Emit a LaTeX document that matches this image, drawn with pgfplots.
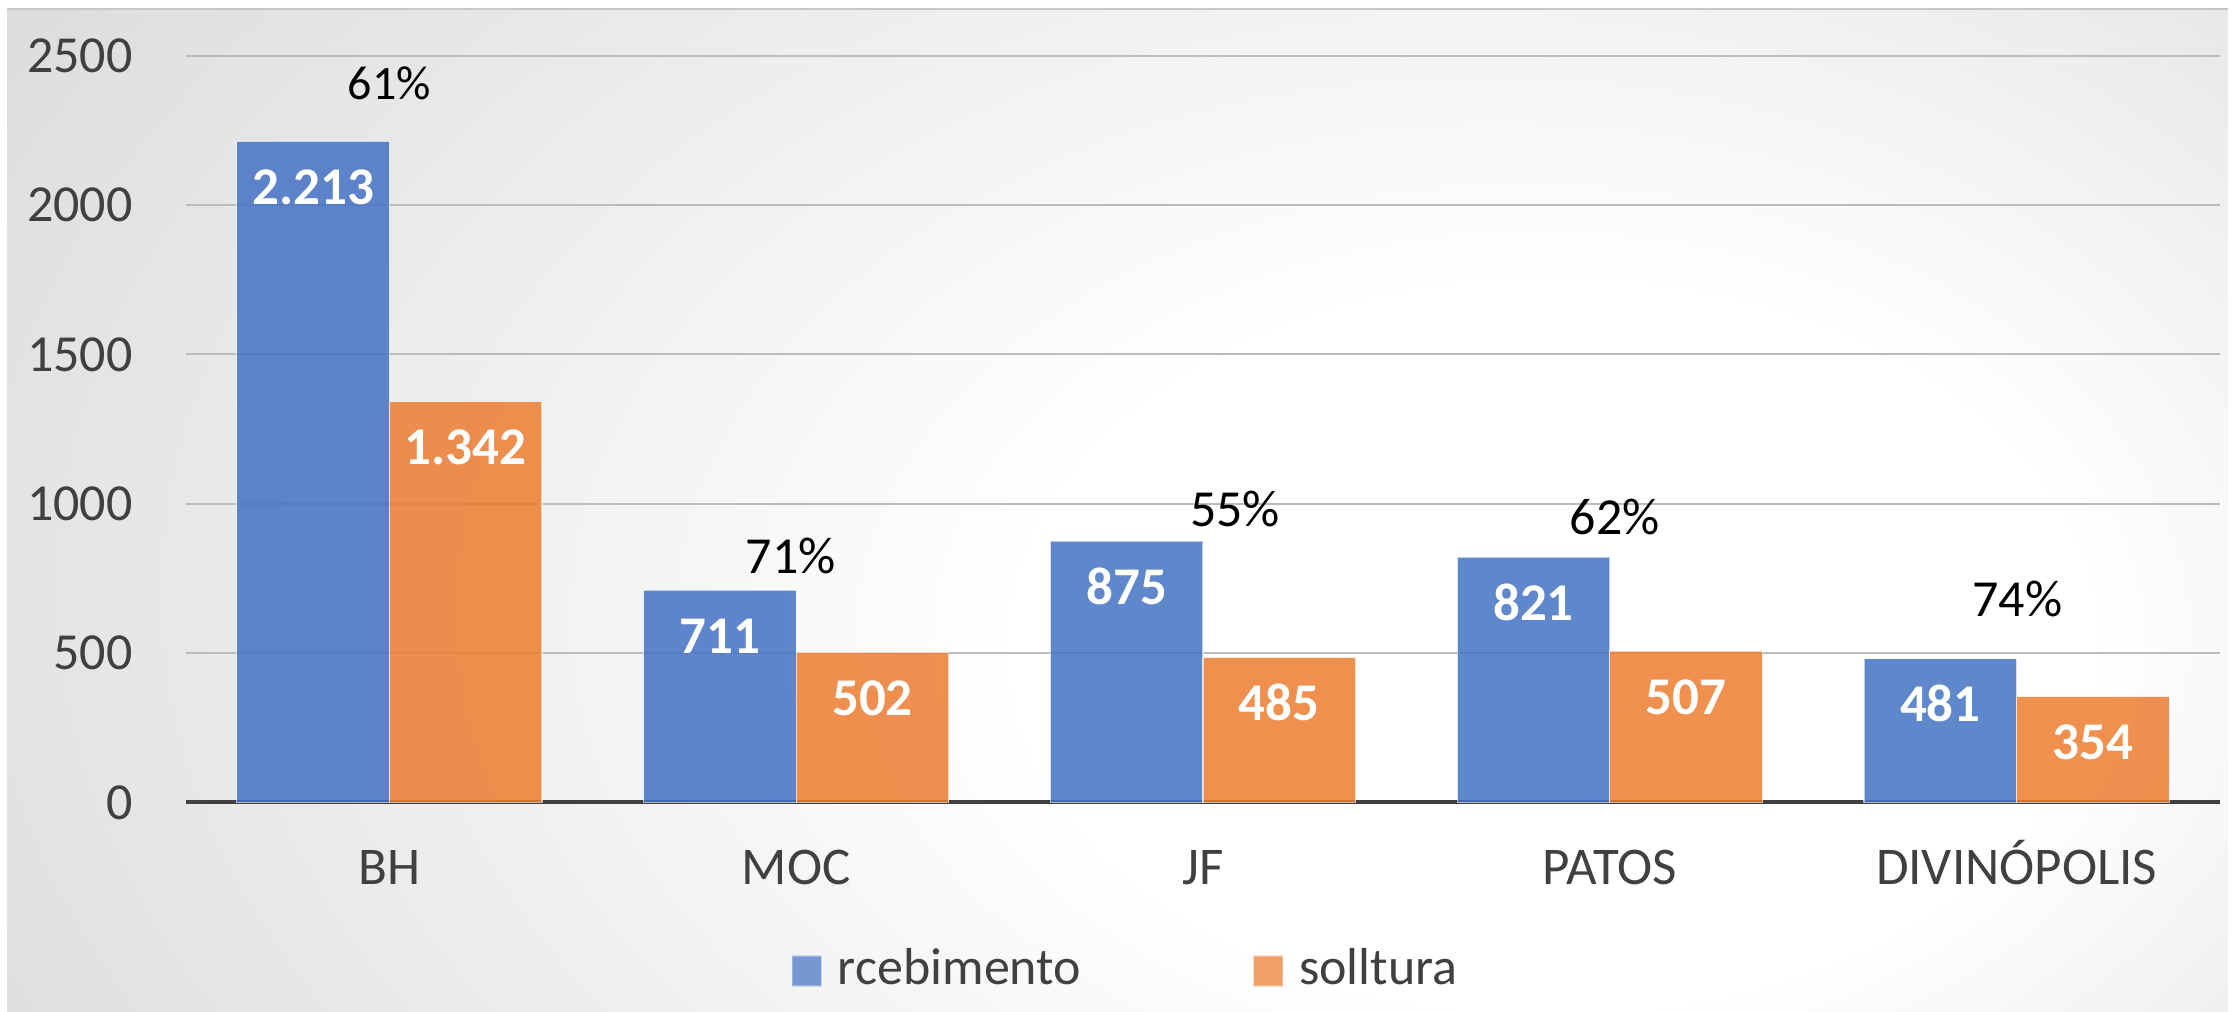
\documentclass[border=0pt]{standalone}
\usepackage{fontspec}
\setmainfont{Carlito}
\usepackage{pgfplots}
\pgfplotsset{compat=1.18}
\definecolor{barblue}{RGB}{68,114,196}
\definecolor{barorange}{RGB}{237,125,49}
\definecolor{labelgray}{RGB}{64,64,64}
\definecolor{gridgray}{RGB}{188,188,188}
\pgfdeclareradialshading{bgshade}{\pgfpoint{13bp}{-6bp}}{color(0bp)=(white); color(12bp)=(white); color(32bp)=(white!88!black); color(50bp)=(white!74!black)}
\begin{document}
\begin{tikzpicture}
\path[use as bounding box] (0pt,0pt) rectangle (1119.5pt,506pt);
\begin{scope}
\clip (3.5pt,0pt) rectangle (1114pt,501.5pt);
\shade[shading=bgshade] (3.5pt,-125.4pt) rectangle (1114pt,626.9pt);
\end{scope}
\draw[white!78!black, line width=0.8pt] (3.5pt,501.5pt) -- (1114pt,501.5pt);
\begin{axis}[
  at={(93pt,104.75pt)}, anchor=south west,
  scale only axis, width=1017pt, height=373.4pt,
  xmin=-0.5, xmax=4.5, ymin=0, ymax=2500,
  xtick={0,1,2,3,4},
  xticklabels={BH,MOC,JF,PATOS,DIVINÓPOLIS},
  ytick={0,500,1000,1500,2000,2500},
  /pgf/number format/assume math mode=true,
  /pgf/number format/1000 sep={},
  axis x line*=bottom, axis y line*=left,
  y axis line style={draw=none},
  x axis line style={line width=2pt, color=labelgray, -},
  major tick length=0pt,
  tick style={draw=none},
  ymajorgrids,
  grid style={gridgray, line width=1pt},
  yticklabel style={font=\fontsize{26}{30}\selectfont, text=labelgray, anchor=east, inner sep=0pt, xshift=-26.5pt},
  xticklabel style={font=\fontsize{26.5}{30}\selectfont, text=labelgray, anchor=base, inner sep=0pt, yshift=-41.25pt},
  legend style={at={(axis description cs:0.2978,-0.2471)}, anchor=south west, draw=none, fill=none,
    inner sep=0pt, outer sep=0pt, legend columns=2,
    font=\fontsize{26}{30}\selectfont, text=labelgray,
    nodes={inner sep=0pt},
    /tikz/every odd column/.style={column sep=8pt},
    /tikz/every even column/.style={column sep=86pt}},
  legend cell align=left,
]
\addplot[ybar, bar width=0.375, bar shift=-0.1875, fill=barblue, fill opacity=0.85,
  draw=white, draw opacity=0.6, line width=0.6pt,
  nodes near coords={\pgfmathprintnumber[1000 sep={.}]{\pgfplotspointmeta}},
  every node near coord/.append style={anchor=base, xshift=-38.14pt, yshift=-31.5pt, text=white, fill opacity=1, text opacity=1,
    font=\bfseries\fontsize{26.5}{30}\selectfont},
  legend image code/.code={\draw[fill=barblue!85!white, draw=barblue!40!white, line width=0.6pt] (0pt,-9.3pt) rectangle (14.5pt,5.7pt);}
] coordinates {(0,2213) (1,711) (2,875) (3,821) (4,481)};
\addlegendentry{rcebimento}
\addplot[ybar, bar width=0.375, bar shift=0.1875, fill=barorange, fill opacity=0.85,
  draw=white, draw opacity=0.6, line width=0.6pt,
  nodes near coords={\pgfmathprintnumber[1000 sep={.}]{\pgfplotspointmeta}},
  every node near coord/.append style={anchor=base, xshift=38.14pt, yshift=-31.5pt, text=white, fill opacity=1, text opacity=1,
    font=\bfseries\fontsize{26.5}{30}\selectfont},
  legend image code/.code={\draw[fill=barorange!85!white, draw=barorange!40!white, line width=0.6pt] (0pt,-9.3pt) rectangle (14.5pt,5.7pt);}
] coordinates {(0,1342) (1,502) (2,485) (3,507) (4,354)};
\addlegendentry{solltura}
\addplot[draw=none, mark=none, forget plot, nodes near coords, point meta=explicit symbolic,
  every node near coord/.append style={anchor=base, text=black, font=\fontsize{24}{28}\selectfont}]
  coordinates {(0,2355)[61\%]};
\addplot[draw=none, mark=none, forget plot, nodes near coords, point meta=explicit symbolic,
  every node near coord/.append style={anchor=base, text=black, font=\fontsize{26}{30}\selectfont}]
  coordinates {(0.987,768)[71\%] (2.079,925)[55\%] (3.012,898)[62\%] (4.002,624)[74\%]};
\end{axis}
\end{tikzpicture}
\end{document}
